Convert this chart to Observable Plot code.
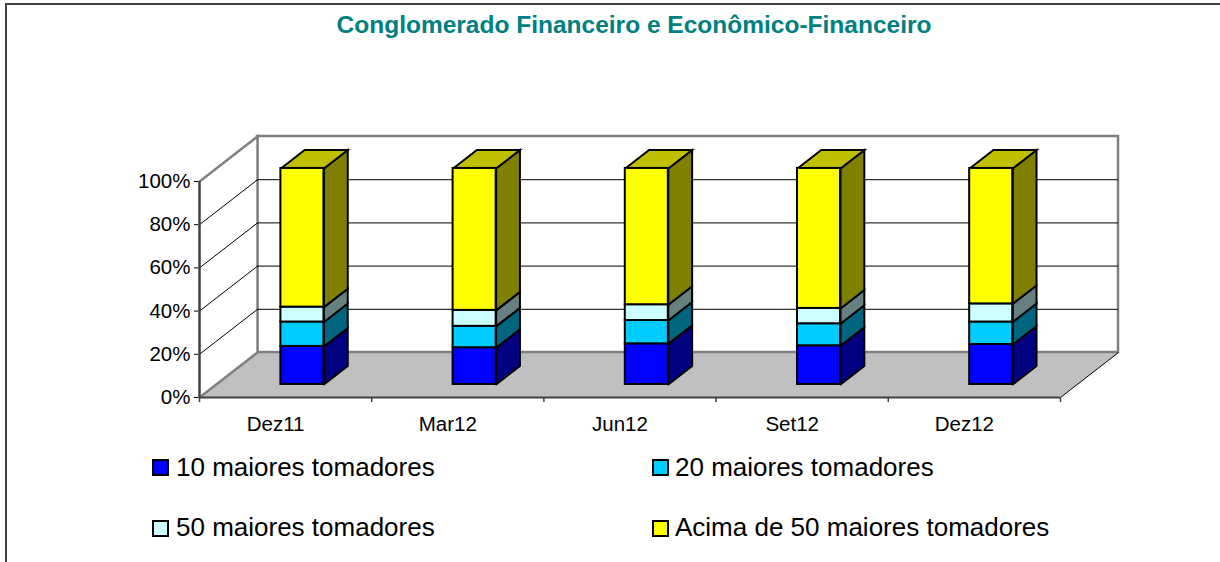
<!DOCTYPE html>
<html>
<head>
<meta charset="utf-8">
<script src="https://cdn.jsdelivr.net/npm/d3@7"></script>
<script src="https://cdn.jsdelivr.net/npm/@observablehq/plot@0.6"></script>
<style>
  html, body { margin: 0; padding: 0; background: #fff; }
  body { font-family: "Liberation Sans", Arial, sans-serif; }
  #wrap { position: relative; width: 1220px; height: 562px; overflow: hidden; background: #fff; }
  #frame { position: absolute; left: 5px; top: 3px; width: 1300px; height: 700px; border-top: 2px solid #404040; border-left: 2px solid #404040; }
  #chart { position: absolute; left: 0; top: 0; }
  #title { position: absolute; left: 0; width: 1268px; top: 13px; text-align: center; color: #008080; font-weight: bold; font-size: 24.5px; line-height: 1; white-space: nowrap; }
  .sw { position: absolute; width: 17px; height: 17px; box-sizing: border-box; border: 2px solid #000; }
  .lt { position: absolute; font-size: 26px; line-height: 1; color: #000; white-space: nowrap; }
</style>
</head>
<body>
<div id="wrap">
  <div id="frame"></div>
  <div id="chart"></div>
  <div id="title">Conglomerado Financeiro e Econômico-Financeiro</div>
  <div id="legend"></div>
</div>
<script>
// ---- data ----
const categories = ["Dez11", "Mar12", "Jun12", "Set12", "Dez12"];
const seriesNames = ["10 maiores tomadores", "20 maiores tomadores", "50 maiores tomadores", "Acima de 50 maiores tomadores"];
const top10   = [17.6, 17.0, 18.8, 17.9, 18.5];
const top20   = [11.3,  9.9, 10.8, 10.2, 10.4];
const top50   = [ 6.9,  7.4,  7.3,  7.1,  8.4];
const above50 = [64.2, 65.7, 63.1, 64.8, 62.7];
const yTicks = [0, 20, 40, 60, 80, 100];
const gridValues = [20, 40, 60, 80];

// ---- styles ----
const frontColors = ["#0000FF", "#00CCFF", "#CCFFFF", "#FFFF00"];
const sideColors  = ["#000080", "#006680", "#668080", "#808000"];
const topColor = "#C0C000";

// ---- 3D geometry (in data units) ----
const DX = 0.337;   // full depth along x (category units)
const DY = 20.83;   // full depth along y (percent units)
const F1 = 0.29, F2 = 0.70; // bar front/back depth fractions
const HW = 0.125;   // half bar width (category units)
const X0 = -0.5, X1 = categories.length - 0.5;

const values = [top10, top20, top50, above50];
const segs = [];
categories.forEach((c, i) => {
  let y0 = 0;
  values.forEach((v, s) => {
    const y1 = y0 + v[i];
    segs.push({i, s, cat: c, y0, y1});
    y0 = y1;
  });
});
const px = (x, f) => x + f * DX;
const py = (y, f) => y + f * DY;
const poly = (id, fill, pts) => pts.concat([pts[0]]).map(([x, y, f]) => ({id, fill, x: px(x, f), y: py(y, f)}));

const sideRows = segs.flatMap(d => {
  const xr = d.i + HW;
  return poly(`s${d.i}-${d.s}`, sideColors[d.s], [[xr, d.y0, F1], [xr, d.y0, F2], [xr, d.y1, F2], [xr, d.y1, F1]]);
});
const topRows = segs.filter(d => d.s === values.length - 1).flatMap(d => {
  const xl = d.i - HW, xr = d.i + HW;
  return poly(`t${d.i}`, topColor, [[xl, d.y1, F1], [xr, d.y1, F1], [xr, d.y1, F2], [xl, d.y1, F2]]);
});
const floorRows = poly("floor", "#C0C0C0", [[X0, 0, 0], [X1, 0, 0], [X1, 0, 1], [X0, 0, 1]]);
const leftWallRows = poly("lw", "#FFFFFF", [[X0, 0, 0], [X0, 0, 1], [X0, 100, 1], [X0, 100, 0]]);
const bounds = d3.range(categories.length + 1).map(k => X0 + k);

const chart = Plot.plot({
  width: 1220,
  height: 562,
  marginLeft: 199,
  marginRight: 102,
  marginTop: 136,
  marginBottom: 165,
  style: {fontFamily: "Liberation Sans, Arial, sans-serif", fontSize: "20.5px", color: "#000", background: "transparent"},
  x: {domain: [X0, X1 + DX], axis: null},
  y: {domain: [0, 100 + DY], ticks: yTicks, tickFormat: d => d + "%", tickSize: 5, tickPadding: 4, label: null},
  color: {type: "identity"},
  marks: [
    // floor
    Plot.line(floorRows, {x: "x", y: "y", z: "id", fill: "fill", stroke: "none"}),
    // back wall
    Plot.rect([0], {x1: () => px(X0, 1), x2: () => px(X1, 1), y1: () => py(0, 1), y2: () => py(100, 1), fill: "#FFFFFF", stroke: "#808080", strokeWidth: 2.5}),
    // left wall
    Plot.line(leftWallRows, {x: "x", y: "y", z: "id", fill: "fill", stroke: "#808080", strokeWidth: 2.5, strokeLinejoin: "miter", strokeMiterlimit: 4}),
    // gridlines on back wall and left wall
    Plot.ruleY(gridValues, {y: g => py(g, 1), x1: () => px(X0, 1), x2: () => px(X1, 1), stroke: "#000", strokeWidth: 1}),
    Plot.link(gridValues, {x1: () => X0, y1: g => g, x2: () => px(X0, 1), y2: g => py(g, 1), stroke: "#000", strokeWidth: 1}),
    // floor right edge
    Plot.link([0], {x1: () => X1, y1: () => 0, x2: () => px(X1, 1), y2: () => py(0, 1), stroke: "#000", strokeWidth: 1}),
    // front axes
    Plot.ruleX([X0], {y1: 0, y2: 100, stroke: "#404040", strokeWidth: 2}),
    Plot.ruleY([0], {x1: X0, x2: X1, stroke: "#404040", strokeWidth: 2}),
    Plot.ruleX(bounds, {y1: 0, y2: -5 / 2.163, stroke: "#404040", strokeWidth: 1.5}),
    // bars: side faces, top faces, front faces
    Plot.line(sideRows, {x: "x", y: "y", z: "id", fill: "fill", stroke: "#000", strokeWidth: 2, strokeLinejoin: "miter", strokeMiterlimit: 4}),
    Plot.line(topRows, {x: "x", y: "y", z: "id", fill: "fill", stroke: "#000", strokeWidth: 2, strokeLinejoin: "miter", strokeMiterlimit: 4}),
    Plot.rect(segs, {
      x1: d => px(d.i - HW, F1), x2: d => px(d.i + HW, F1),
      y1: d => py(d.y0, F1), y2: d => py(d.y1, F1),
      fill: d => frontColors[d.s], stroke: "#000", strokeWidth: 2
    }),
    // category labels
    Plot.text(categories, {x: (d, i) => i, y: () => 0, text: d => d, dx: -10, dy: 27, fontSize: 20.5, fill: "#000"})
  ]
});
document.getElementById("chart").appendChild(chart);

// legend
const legendPos = [
  {sx: 152, tx: 176, sy: 459, ty: 454},
  {sx: 652, tx: 675, sy: 459, ty: 454},
  {sx: 152, tx: 176, sy: 520, ty: 514},
  {sx: 652, tx: 675, sy: 520, ty: 514}
];
const legend = document.getElementById("legend");
seriesNames.forEach((name, s) => {
  const p = legendPos[s];
  const sw = document.createElement("div");
  sw.className = "sw";
  sw.style.left = p.sx + "px"; sw.style.top = p.sy + "px";
  sw.style.background = frontColors[s];
  const t = document.createElement("div");
  t.className = "lt";
  t.style.left = p.tx + "px"; t.style.top = p.ty + "px";
  t.textContent = name;
  legend.appendChild(sw);
  legend.appendChild(t);
});
</script>
</body>
</html>
